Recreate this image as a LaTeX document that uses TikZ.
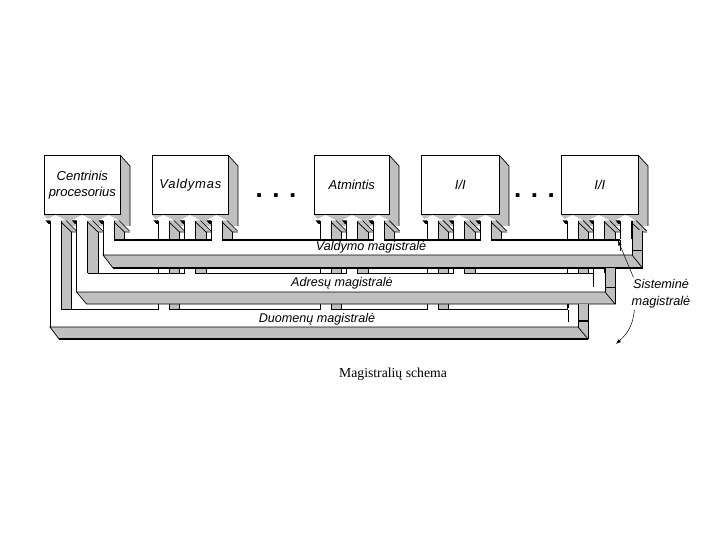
\documentclass[tikz,border=0pt]{standalone}
\usepackage{fontspec}
\setmainfont{Liberation Sans}
\newfontfamily\capfont{Liberation Serif}
\usetikzlibrary{arrows.meta,calc}
\definecolor{bandgray}{HTML}{C0C0C0}
\tikzset{every node/.append style={inner sep=0pt}}

\begin{document}
\begin{tikzpicture}[x=1pt,y=-1pt,line width=0.7pt,
  b/.style={draw,fill=white,anchor=north west,minimum height=59.5pt,align=center,font=\itshape\fontsize{13}{16}\selectfont},
  lbl/.style={font=\itshape\fontsize{12.6}{16}\selectfont,align=center},
  dots/.style={font=\bfseries\fontsize{26}{26}\selectfont,anchor=base}]
\useasboundingbox (0,0) rectangle (720,540);
% depth of the boxes
\foreach \bx/\bw in {44/76,152/76,314/75,421/78,561/77} {
  \fill[bandgray] (\bx+\bw,155) -- (\bx+\bw+10,166) -- (\bx+\bw+10,226) -- (\bx+10,226) -- (\bx,215) -- cycle;
  \draw (\bx+\bw,155) -- (\bx+\bw+10,166) -- (\bx+\bw+10,226);
}
% arrows under the boxes
\foreach \bx in {44,152,314,421,561}
  \foreach \k/\yw in {0/309,1/273,2/239} {
    \pgfmathsetmacro{\cx}{\bx+11.5+26.5*\k}
    \fill[bandgray] (\cx+5.5,221) -- (\cx+10.5,220.5) -- (\cx+21,231) -- (\cx+16,232) -- (\cx+16,\yw) -- (\cx+5.5,\yw) -- cycle;
    \draw[line width=0.5pt] (\cx+16,232) -- (\cx+16,\yw);
    \draw (\cx+5.5,222) -- (\cx+16,232) -- (\cx+21.5,232);
    \draw (\cx+10.5,220.5) -- (\cx+21,231);
    \fill[white] (\cx-5.5,220) rectangle (\cx+5.5,\yw+1);
    \draw[line width=0.5pt] (\cx-5.5,221) -- (\cx-5.5,\yw) (\cx+5.5,221) -- (\cx+5.5,\yw);
    \fill[white] (\cx-10.5,220.5) -- (\cx,215) -- (\cx+10.5,220.5) -- cycle;
    \fill (\cx-10,220.5) -- (\cx-5.5,220.5) -- (\cx-5.5,224) -- (\cx-7,224) -- cycle;
  }
% boxes
\node[b,minimum width=76pt] (cpu) at (44,155) {Centrinis\\procesorius};
\node[b,minimum width=76pt,font=\itshape\fontsize{13}{16}\selectfont\addfontfeature{LetterSpace=6}] (ctl) at (152,155) {Valdymas};
\node[b,minimum width=75pt] (mem) at (314,155) {Atmintis};
\node[b,minimum width=78pt] (ioa) at (421,155) {I/I};
\node[b,minimum width=77pt] (iob) at (561,155) {I/I};
\node[dots] (dotsa) at (276,197.5) {. . .};
\node[dots] (dotsb) at (534.5,197.5) {. . .};
% control bus
\fill[white] (103,240) rectangle (632,255);
\fill[bandgray] (632,230) rectangle (642.5,268);
\filldraw[fill=bandgray] (103,255) -- (632,255) -- (642.5,268) -- (113,268) -- cycle;
\draw (103,221) -- (103,255);
\draw (632,221) -- (632,255);
\draw (632,250) -- (642.5,250);
\draw[line width=1.2pt] (642.5,231) -- (642.5,268);
\draw[line width=1.2pt] (113,268) -- (642.5,268);
\draw[line width=2pt] (113,239.5) -- (620,239.5);
\draw (620,240) -- (620,251);
% address bus
\fill[white] (76.5,273) rectangle (605,292);
\fill[bandgray] (605,268) rectangle (615,304);
\filldraw[fill=bandgray] (76.5,292) -- (605,292) -- (615,304) -- (86.5,304) -- cycle;
\draw (76.5,221) -- (76.5,292);
\draw (87.5,273) -- (593,273);
\draw (593,268) -- (593,287);
\draw (605,268) -- (605,292);
\draw (605,287) -- (615,287);
\draw (615,268) -- (615,304);
% data bus
\fill[white] (50,309) rectangle (578,327);
\fill[bandgray] (578,304) rectangle (588,339);
\filldraw[fill=bandgray] (50,327) -- (578,327) -- (588,339) -- (59,339) -- cycle;
\draw (50,221) -- (50,327);
\draw (61,309) -- (568,309);
\draw (568,304) -- (568,322);
\draw (578,304) -- (578,327);
\draw[line width=1.2pt] (578,321) -- (588,321);
\draw (588,304) -- (588,339);
\draw[line width=1.8pt] (59,339) -- (588,339);
% openings where the arrows join their bus
\foreach \bx in {44,152,314,421,561}
  \foreach \k/\yw in {0/309,1/273,2/239.5} {
    \pgfmathsetmacro{\cx}{\bx+11.5+26.5*\k}
    \fill[white] (\cx-5,\yw-1.4) rectangle (\cx+5,\yw+1.4);
  }
% labels
\node[lbl] (ctlbus) at (371,247.5) {Valdymo magistralė};
\node[lbl] (adrbus) at (342,283.5) {Adresų magistralė};
\node[lbl] (datbus) at (317,319) {Duomenų magistralė};
\node[lbl,font=\itshape\fontsize{12.7}{17}\selectfont] (sys) at (661,294) {Sisteminė\\magistralė};
\node[font=\capfont\fontsize{13.7}{16}\selectfont] (cap) at (393,374) {Magistralių schema};
\coordinate (sysup) at (618,240.5);
\coordinate (sysdown) at (616,344);
\draw[-{Latex[length=5pt]},line width=0.5pt] ($(sys.north west)+(2,-2)$) -- (sysup);
\draw[-{Latex[length=5pt]},line width=0.5pt] ($(sys.south west)+(3,1)$) .. controls (633,325) and (628,333) .. (sysdown);
\end{tikzpicture}
\end{document}
